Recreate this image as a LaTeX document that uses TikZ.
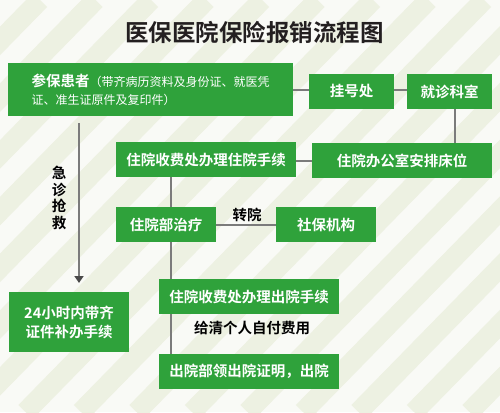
\documentclass[tikz,border=0pt]{standalone}
\usepackage{fontspec}
\setmainfont{Noto Sans CJK SC}[BoldFont={Noto Sans CJK SC Bold}]
\usetikzlibrary{arrows.meta}
\definecolor{boxgreen}{HTML}{2FA23B}
\definecolor{stripegreen}{HTML}{EDF1E2}
\definecolor{paper}{HTML}{F9FAF6}
\definecolor{linegray}{HTML}{7B7B7B}
\definecolor{arrowgray}{HTML}{4A4A4A}
\definecolor{inkblack}{HTML}{231F20}

\begin{document}
\begin{tikzpicture}[x=1pt, y=-1pt,
    box/.style={fill=boxgreen, text=white, inner sep=0pt, font=\bfseries\fontsize{14.5}{18}\selectfont},
    link/.style={draw=linegray, line width=2pt},
    note/.style={text=black, inner sep=0pt, font=\bfseries\fontsize{14.5}{17}\selectfont}]
    \useasboundingbox (0,0) rectangle (500,412);

    % striped background
    \fill[paper] (0,0) rectangle (500,412);
    \begin{scope}
        \clip (0,0) rectangle (500,412);
        \foreach \k in {-1,...,16} {
            \draw[stripegreen, line width=20pt] (40+55.5*\k,0) -- ++(-403,412);
        }
    \end{scope}

    \node[inner sep=0pt, text=inkblack, font=\bfseries\fontsize{23.5}{26}\selectfont] (title) at (254.5,32) {医保医院保险报销流程图};

    \node[box, minimum width=285pt, minimum height=53pt, align=left] (patient) at (150.5,89.5)
        {参保患者{\mdseries\fontsize{12}{18}\selectfont（带齐病历资料及身份证、就医凭}\\{\mdseries\fontsize{12}{18}\selectfont 证、准生证原件及复印件）}};
    \node[box, minimum width=85pt, minimum height=35pt] (reg) at (351.5,91.5) {挂号处};
    \node[box, minimum width=85pt, minimum height=35pt] (dept) at (449.5,91.5) {就诊科室};
    \node[box, minimum width=180pt, minimum height=35pt] (admit) at (206,159.5) {住院收费处办理住院手续};
    \node[box, minimum width=180pt, minimum height=35pt] (bed) at (402,160.5) {住院办公室安排床位};
    \node[box, minimum width=100pt, minimum height=35pt] (treat) at (166,224.5) {住院部治疗};
    \node[box, minimum width=100pt, minimum height=35pt] (insur) at (326,224.5) {社保机构};
    \node[box, minimum width=180pt, minimum height=35pt] (discharge) at (249,296.5) {住院收费处办理出院手续};
    \node[box, minimum width=180pt, minimum height=35pt] (leave) at (249,371.5) {出院部领出院证明，出院};
    \node[box, minimum width=120pt, minimum height=60pt, align=center, font=\bfseries\fontsize{14.5}{19}\selectfont] (emerg) at (69,322) {24小时内带齐\\证件补办手续};

    \node[note] (transfer) at (247,215) {转院};
    \node[note] (selfpay) at (252,328) {给清个人自付费用};
    \node[note, align=center, font=\bfseries\fontsize{14.5}{16.7}\selectfont] (rescue) at (59,198) {急\\诊\\抢\\救};

    \coordinate (spine) at (171,0);
    \coordinate (etop) at (79,123);
    \coordinate (ebot) at (79,283);

    \draw[link] (patient.east) -- (patient.east -| reg.west);
    \draw[link] (reg.east |- patient.east) -- (dept.west |- patient.east);
    \draw[link] ([xshift=5pt]dept.south) -- ([xshift=5pt]dept.south |- bed.north);
    \draw[link] (bed.west) -- (bed.west -| admit.east);
    \draw[link] (admit.south -| spine) -- (treat.north -| spine);
    \draw[link] (treat.east) -- (insur.west);
    \draw[link] (treat.south -| spine) -- (discharge.north -| spine);
    \draw[link] (discharge.south -| spine) -- (leave.north -| spine);
    \draw[link, -{Triangle[width=9pt, length=7pt, color=arrowgray]}] (etop) -- (ebot);
\end{tikzpicture}
\end{document}
